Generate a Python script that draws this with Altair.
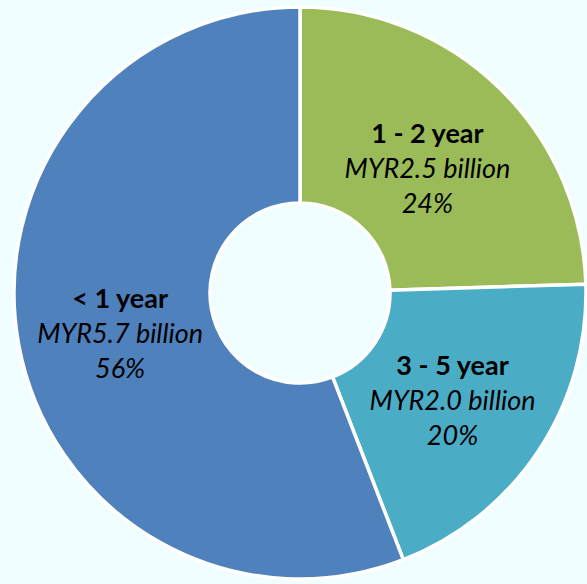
import altair as alt
import pandas as pd

labels = ["1 - 2 year", "3 - 5 year", "< 1 year"]
amounts = [2.5, 2.0, 5.7]
amount_text = ["MYR2.5 billion", "MYR2.0 billion", "MYR5.7 billion"]
percent_text = ["24%", "20%", "56%"]
colors = ["#9BBB59", "#4BACC6", "#4F81BD"]
order = [0, 1, 2]

df = pd.DataFrame({
    "label": labels,
    "amount": amounts,
    "amount_text": amount_text,
    "pct": percent_text,
    "ord": order,
})

CX, CY = 300, 293
FONT = "Lato"
FS = 27
R_TXT = 183

base = alt.Chart(df).encode(
    theta=alt.Theta("amount:Q", stack=True),
    order=alt.Order("ord:Q"),
    x=alt.value(CX),
    y=alt.value(CY),
)

arcs = base.mark_arc(outerRadius=286, innerRadius=90, stroke="white", strokeWidth=3.5).encode(
    color=alt.Color("label:N", scale=alt.Scale(domain=labels, range=colors), legend=None)
)

t1 = base.mark_text(radius=R_TXT, dy=-27, font=FONT, fontSize=FS, fontWeight="bold",
                    color="black").encode(text="label:N")
t2 = base.mark_text(radius=R_TXT, dy=8, font=FONT, fontSize=FS, fontStyle="italic",
                    color="black").encode(text="amount_text:N")
t3 = base.mark_text(radius=R_TXT, dy=43, font=FONT, fontSize=FS, fontStyle="italic",
                    color="black").encode(text="pct:N")

chart = alt.layer(arcs, t1, t2, t3).properties(
    width=587, height=584, background="#F0FEFF", padding=0, autosize="none"
).configure_view(stroke=None)

chart.save("out.html", embed_options={"renderer": "svg", "actions": False})
